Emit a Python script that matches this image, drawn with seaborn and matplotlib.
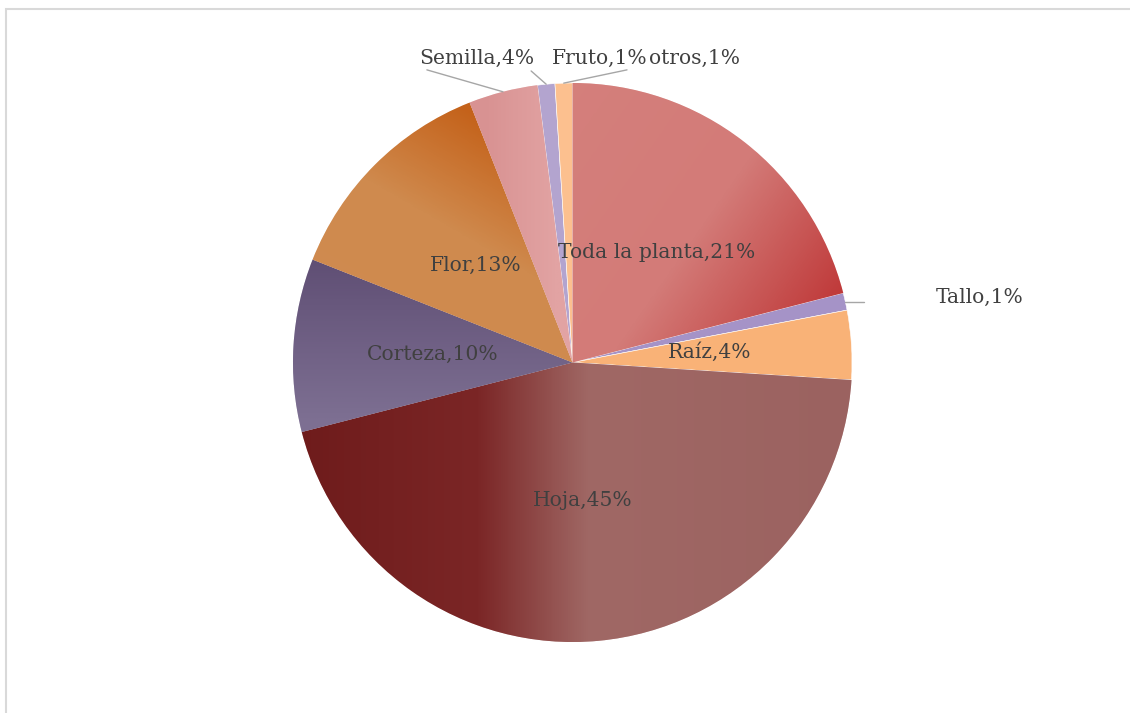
import numpy as np
import matplotlib
matplotlib.use('Agg')
import matplotlib.pyplot as plt
import seaborn as sns
from matplotlib.colors import LinearSegmentedColormap
from matplotlib.patches import Rectangle

sns.set_style('white')
plt.rcParams['font.family'] = ['DejaVu Serif', 'DejaVu Sans']

# datos del gráfico
partes = ['Toda la planta', 'Tallo', 'Raíz', 'Hoja', 'Corteza', 'Flor',
          'Semilla', 'Fruto', 'otros']
porcentajes = [21, 1, 4, 45, 10, 13, 4, 1, 1]

# colores base y degradados (ángulo, paradas)
colores = ['#d27a77', '#a593c7', '#f9b277', '#8a3d3b', '#716387',
           '#cd8445', '#dc9898', '#b3a4cf', '#fcc08f']
degradados = {
    'Toda la planta': (-35, [(0, '#d5827e'), (0.55, '#d37b78'), (0.82, '#c03b3b'), (1, '#c03b3b')]),
    'Hoja': (0, [(0, '#6e1b1b'), (0.33, '#7b2626'), (0.53, '#a06865'), (1, '#9b6260')]),
    'Corteza': (90, [(0, '#807295'), (0.4, '#7d6f92'), (0.7, '#5e4d73'), (1, '#5e4d73')]),
    'Flor': (60, [(0, '#d08c52'), (0.6, '#cf8a4e'), (0.7, '#ca7634'), (0.8, '#c4621a'), (1, '#c4621a')]),
    'Semilla': (0, [(0, '#d68c8c'), (0.35, '#d99393'), (0.47, '#e2a3a3'), (1, '#e2a3a3')]),
}

# posición de las etiquetas (coordenadas del eje, radio = 1)
pos_etiquetas = {
    'Toda la planta': (0.302, 0.392), 'Tallo': (1.458, 0.234), 'Raíz': (0.492, 0.038),
    'Hoja': (0.038, -0.492), 'Corteza': (-0.499, 0.030), 'Flor': (-0.345, 0.349),
    'Semilla': (-0.342, 1.089), 'Fruto': (0.098, 1.089), 'otros': (0.438, 1.089),
}
# extremo de la línea guía junto a la etiqueta
guias = {'Semilla': (-0.521, 1.047), 'Fruto': (-0.148, 1.043),
         'otros': (0.195, 1.047), 'Tallo': (1.043, 0.218)}

W, H = 1130, 713
fig = plt.figure(figsize=(W / 100, H / 100), dpi=100)
cx, cy, r = 572.5, 362.5, 279.5
ax = fig.add_axes([(cx - r) / W, (H - cy - r) / H, 2 * r / W, 2 * r / H])

wedges, _ = ax.pie(porcentajes, colors=colores, startangle=90, counterclock=False,
                   wedgeprops=dict(edgecolor='white', linewidth=0.4))

xs = np.linspace(-1, 1, 500)
X, Y = np.meshgrid(xs, xs)
for w, nombre in zip(wedges, partes):
    if nombre not in degradados:
        continue
    ang, paradas = degradados[nombre]
    d = np.deg2rad(ang)
    t = (X * np.cos(d) + Y * np.sin(d) + 1) / 2
    cmap = LinearSegmentedColormap.from_list(nombre, paradas)
    im = ax.imshow(t, extent=(-1, 1, -1, 1), origin='lower', cmap=cmap,
                   vmin=0, vmax=1, zorder=w.get_zorder() + 0.1, interpolation='bilinear')
    im.set_clip_path(w)

for w, nombre, p in zip(wedges, partes, porcentajes):
    x, y = pos_etiquetas[nombre]
    ax.text(x, y, f'{nombre},{p}%', ha='center', va='center', fontsize=14.6,
            color='#404040', zorder=5, clip_on=False)
    if nombre in guias:
        mid = np.deg2rad((w.theta1 + w.theta2) / 2)
        ex, ey = np.cos(mid), np.sin(mid)
        gx, gy = guias[nombre]
        if nombre == 'Tallo':
            ax.plot([ex, gx], [ey, ey], color='#a6a6a6', lw=1, clip_on=False, zorder=4)
        else:
            ax.plot([ex, gx], [ey, gy], color='#a6a6a6', lw=1, clip_on=False, zorder=4)

ax.set_xlim(-1, 1)
ax.set_ylim(-1, 1)
ax.set_aspect('equal')
ax.axis('off')

fig.add_artist(Rectangle((5.5 / W, -0.1), 1.2, (H - 8.5) / H + 0.1, transform=fig.transFigure,
                         fill=False, edgecolor='#d9d9d9', lw=1.5))

fig.savefig('out.png', dpi=100, facecolor='white')
plt.close()
